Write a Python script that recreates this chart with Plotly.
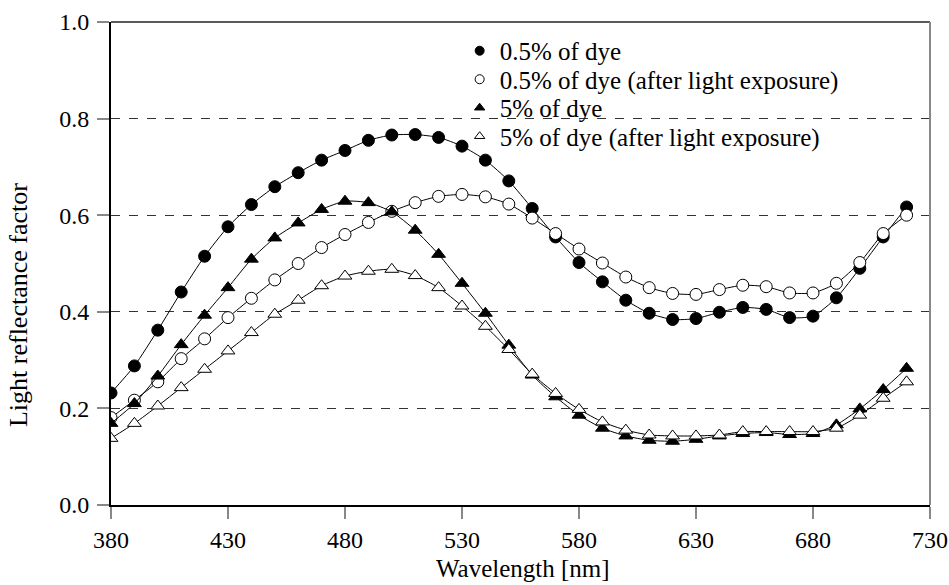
import plotly.graph_objects as go

wavelength = list(range(380, 730, 10))

dye_05 = [0.232, 0.288, 0.362, 0.441, 0.515, 0.576, 0.622, 0.659, 0.688, 0.714,
          0.734, 0.755, 0.766, 0.767, 0.761, 0.743, 0.714, 0.671, 0.614, 0.555,
          0.502, 0.462, 0.424, 0.397, 0.384, 0.386, 0.399, 0.409, 0.405, 0.388,
          0.391, 0.429, 0.490, 0.555, 0.617]

dye_05_exp = [0.181, 0.217, 0.255, 0.303, 0.344, 0.388, 0.428, 0.466, 0.500, 0.533,
              0.560, 0.585, 0.608, 0.626, 0.639, 0.643, 0.638, 0.623, 0.594, 0.562,
              0.530, 0.501, 0.472, 0.450, 0.438, 0.436, 0.446, 0.455, 0.452, 0.439,
              0.439, 0.459, 0.502, 0.562, 0.600]

dye_5 = [0.169, 0.210, 0.267, 0.332, 0.393, 0.450, 0.509, 0.553, 0.584, 0.612,
         0.629, 0.626, 0.607, 0.569, 0.519, 0.459, 0.397, 0.331, 0.269, 0.224,
         0.186, 0.159, 0.143, 0.134, 0.132, 0.136, 0.143, 0.148, 0.150, 0.146,
         0.148, 0.166, 0.199, 0.239, 0.283]

dye_5_exp = [0.138, 0.169, 0.205, 0.243, 0.281, 0.319, 0.357, 0.395, 0.424, 0.454,
             0.474, 0.484, 0.488, 0.475, 0.450, 0.412, 0.370, 0.322, 0.271, 0.231,
             0.198, 0.172, 0.155, 0.145, 0.143, 0.143, 0.145, 0.152, 0.152, 0.152,
             0.152, 0.159, 0.186, 0.221, 0.255]

series_names = ["0.5% of dye", "0.5% of dye (after light exposure)",
                "5% of dye", "5% of dye (after light exposure)"]
x_ticks = [380, 430, 480, 530, 580, 630, 680, 730]
y_ticks = [0.0, 0.2, 0.4, 0.6, 0.8, 1.0]

FONT = "Liberation Serif, DejaVu Serif, serif"
FS = 24
series = [dye_05, dye_05_exp, dye_5, dye_5_exp]
symbols = ["circle", "circle", "triangle-up", "triangle-up"]
fills = ["black", "white", "black", "white"]
legend_ids = ["legend", "legend2", "legend3", "legend4"]
legend_y = [0.940, 0.881, 0.822, 0.763]

fig = go.Figure()
for vals, sym, fc, name in zip(series, symbols, fills, series_names):
    fig.add_trace(go.Scatter(
        x=wavelength, y=vals, mode="lines+markers",
        line=dict(color="black", width=1, shape="spline", smoothing=0.6),
        marker=dict(symbol=sym, size=12, color=fc,
                    line=dict(color="black", width=1)),
        showlegend=False, name=name))

for sym, fc, name, lid in zip(symbols, fills, series_names, legend_ids):
    fig.add_trace(go.Scatter(
        x=[None], y=[None], mode="markers",
        marker=dict(symbol=sym, size=9, color=fc, line=dict(color="black", width=1)),
        name=name, legend=lid, showlegend=True))

legend_common = dict(x=0.4257, xanchor="left", yanchor="middle",
                     bgcolor="rgba(0,0,0,0)", borderwidth=0,
                     font=dict(family=FONT, size=25), itemwidth=30)
legends = {lid: dict(legend_common, y=ly) for lid, ly in zip(legend_ids, legend_y)}

fig.update_layout(
    width=949, height=585,
    margin=dict(l=111, r=19, t=22, b=80),
    paper_bgcolor="white", plot_bgcolor="white",
    font=dict(family=FONT, size=FS, color="black"),
    xaxis=dict(range=[380, 730], tickvals=x_ticks, ticktext=[str(v) for v in x_ticks],
               showline=True, linecolor="black", linewidth=2,
               ticks="outside", ticklen=12, tickwidth=1.5, tickcolor="#888",
               showgrid=False, zeroline=False, automargin=False,
               ticklabeloverflow="allow"),
    yaxis=dict(range=[0, 1], tickvals=y_ticks, ticktext=[f"{v:.1f}" for v in y_ticks],
               showline=True, linecolor="black", linewidth=2,
               ticks="outside", ticklen=12, tickwidth=1.5, tickcolor="#888",
               ticklabelstandoff=3, automargin=False, ticklabeloverflow="allow",
               showgrid=True, gridcolor="#333", griddash="dash", gridwidth=1,
               zeroline=False),
    annotations=[
        dict(text="Light reflectance factor", x=0, xshift=-93, xref="paper",
             y=0.414, yref="paper", textangle=-90, showarrow=False,
             xanchor="center", yanchor="middle",
             font=dict(family=FONT, size=26)),
        dict(text="Wavelength [nm]", x=0.5, xref="paper", xshift=2,
             y=0, yref="paper", yshift=-63, showarrow=False,
             xanchor="center", yanchor="middle",
             font=dict(family=FONT, size=25)),
    ],
    shapes=[
        dict(type="rect", xref="paper", yref="paper", x0=0.437, x1=0.984,
             y0=0.74, y1=0.98, fillcolor="white", line=dict(width=0), layer="below"),
        dict(type="line", xref="paper", yref="paper", x0=0, x1=1, y0=1, y1=1,
             line=dict(color="#222", width=1.5), layer="above"),
        dict(type="line", xref="paper", yref="paper", x0=1, x1=1, y0=0, y1=1,
             line=dict(color="#888", width=2), layer="above"),
    ],
    **legends,
)

fig.write_html("out.html")
